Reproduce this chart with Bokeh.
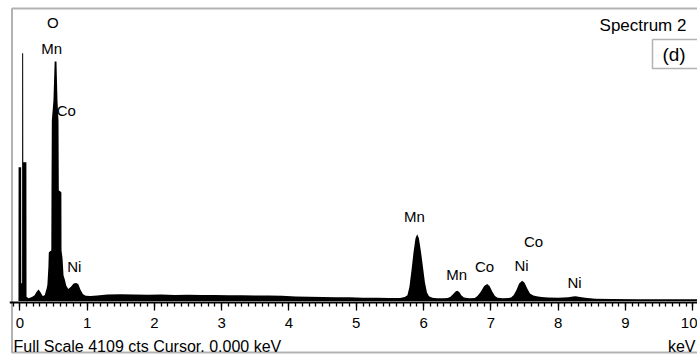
from bokeh.plotting import figure
from bokeh.models import Range1d, SingleIntervalTicker, Label, BoxAnnotation, ColumnDataSource
from bokeh.core.properties import value
from bokeh.embed import file_html
from bokeh.resources import INLINE

# ---- data ----
energy_kev = [-0.02, -0.018, 0.02, 0.022, 0.034, 0.035, 0.05, 0.052, 0.098, 0.10,
              0.13, 0.18, 0.22, 0.25, 0.28, 0.31, 0.34, 0.37, 0.40, 0.41, 0.425, 0.431,
              0.45, 0.468, 0.471, 0.476, 0.50, 0.518, 0.545, 0.56, 0.575, 0.58, 0.60,
              0.618, 0.62, 0.635, 0.65, 0.67, 0.69, 0.72, 0.76, 0.80, 0.84, 0.87, 0.90,
              0.94, 0.98, 1.05, 1.15,
              1.3, 1.5, 1.7, 1.9, 2.1, 2.3, 2.5, 2.7, 2.9, 3.1, 3.3, 3.5, 3.7, 3.9, 4.1, 4.3,
              4.5, 4.7, 4.9, 5.1, 5.3, 5.5, 5.65, 5.72, 5.76, 5.79, 5.82, 5.85, 5.88, 5.905,
              5.93, 5.96, 5.99, 6.02, 6.05, 6.08, 6.13, 6.2, 6.3, 6.36, 6.40, 6.44, 6.48, 6.50,
              6.53, 6.56, 6.60, 6.68, 6.76, 6.80, 6.85, 6.90, 6.945, 6.98, 7.02, 7.06, 7.10,
              7.18, 7.26, 7.30, 7.34, 7.38, 7.42, 7.465, 7.50, 7.54, 7.58, 7.63, 7.68, 7.75,
              7.85, 8.0, 8.15, 8.22, 8.26, 8.30, 8.40, 8.55, 8.8, 9.2, 9.6, 10.1]
counts = [0, 1880, 1880, 250, 250, 3480, 3480, 1950, 1950, 60,
          40, 55, 80, 130, 160, 120, 70, 80, 180, 230, 480, 681,
          700, 709, 1552, 2535, 2817, 3364, 3364, 2817, 2535, 1552, 1540,
          1524, 709, 600, 358, 300, 218, 170, 200, 245, 252, 235, 160,
          95, 75, 70, 78,
          90, 95, 92, 88, 90, 86, 88, 84, 86, 80, 82, 78, 76, 72, 62, 58,
          56, 54, 52, 46, 44, 42, 42, 55, 80, 200, 430, 680, 880, 937,
          880, 700, 480, 260, 120, 65, 45, 40, 40, 42, 60, 100, 138, 144,
          125, 80, 48, 40, 42, 70, 130, 210, 238, 210, 135, 70, 45,
          40, 42, 50, 85, 155, 245, 284, 255, 175, 105, 78, 65, 56,
          50, 46, 52, 62, 68, 60, 45, 32, 28, 26, 25, 24]

peak_labels = ["O", "Mn", "Co", "Ni", "Mn", "Mn", "Co", "Ni", "Co", "Ni"]
label_kev = [0.49, 0.475, 0.69, 0.81, 5.865, 6.49, 6.905, 7.455, 7.633, 8.242]
label_cts = [3912, 3547, 2676, 478, 1194, 372, 478, 499, 836, 253]

full_scale = 4109
major_step = 1
minor_per_major = 10
spectrum_title = "Spectrum 2"
panel_tag = "(d)"
footer_text = "Full Scale 4109 cts Cursor. 0.000 keV"
unit_text = "keV"

FONT = "Liberation Sans"

# frame spans the whole boxed panel; the keV axis is drawn at a fixed count level
p = figure(width=697, height=354, output_backend="svg", toolbar_location=None,
           x_range=Range1d(-0.153, 10.07), y_range=Range1d(-751.6, 4137.1),
           y_axis_location=None, x_axis_location="below",
           min_border_left=9, min_border_right=0, min_border_top=6, min_border_bottom=0)
p.background_fill_color = "white"
p.border_fill_color = "white"
p.grid.visible = False
p.outline_line_color = None

ax = p.xaxis[0]
ax.fixed_location = -28
ax.ticker = SingleIntervalTicker(interval=major_step, num_minor_ticks=minor_per_major)
ax.axis_line_color = "black"
ax.axis_line_width = 2
ax.major_tick_in = 0
ax.major_tick_out = 8
ax.minor_tick_in = 0
ax.minor_tick_out = 4
ax.major_tick_line_color = "black"
ax.minor_tick_line_color = "black"
ax.major_tick_line_width = 1.3
ax.minor_tick_line_width = 1.3
ax.major_label_text_font = FONT
ax.major_label_text_font_size = "15px"
ax.major_label_text_color = "black"
ax.major_label_standoff = 7

src = ColumnDataSource(dict(x=energy_kev, y=counts))
p.varea(x="x", y1=0, y2="y", source=src, fill_color="black")

lab_src = ColumnDataSource(dict(x=label_kev, y=label_cts, t=peak_labels))
p.text(x="x", y="y", text="t", source=lab_src, text_font=value(FONT),
       text_font_size=value("15px"), text_align="center", text_baseline="middle",
       text_color="black")

# outer frame of the whole spectrum panel (right side runs past the edge)
p.add_layout(BoxAnnotation(left=2.5, right=3000, bottom=2, top=346,
                           left_units="screen", right_units="screen",
                           bottom_units="screen", top_units="screen",
                           fill_color=None, line_color="black", line_width=2))
# (d) box
p.add_layout(BoxAnnotation(left=643, right=3000, bottom=286, top=315,
                           left_units="screen", right_units="screen",
                           bottom_units="screen", top_units="screen",
                           fill_color=None, line_color="black", line_width=1.5))

p.add_layout(Label(x=633.5, y=329, x_units="screen", y_units="screen", text=spectrum_title,
                   text_font=FONT, text_font_size="17px", text_align="center",
                   text_baseline="middle", text_color="black"))
p.add_layout(Label(x=664.5, y=300.5, x_units="screen", y_units="screen", text=panel_tag,
                   text_font=FONT, text_font_size="19px", text_align="center",
                   text_baseline="middle", text_color="black"))
p.add_layout(Label(x=4, y=8.5, x_units="screen", y_units="screen", text=footer_text,
                   text_font=FONT, text_font_size="16px", text_align="left",
                   text_baseline="alphabetic", text_color="black"))
p.add_layout(Label(x=686, y=8.5, x_units="screen", y_units="screen", text=unit_text,
                   text_font=FONT, text_font_size="16px", text_align="right",
                   text_baseline="alphabetic", text_color="black"))

open("out.html", "w").write(file_html(p, INLINE))
